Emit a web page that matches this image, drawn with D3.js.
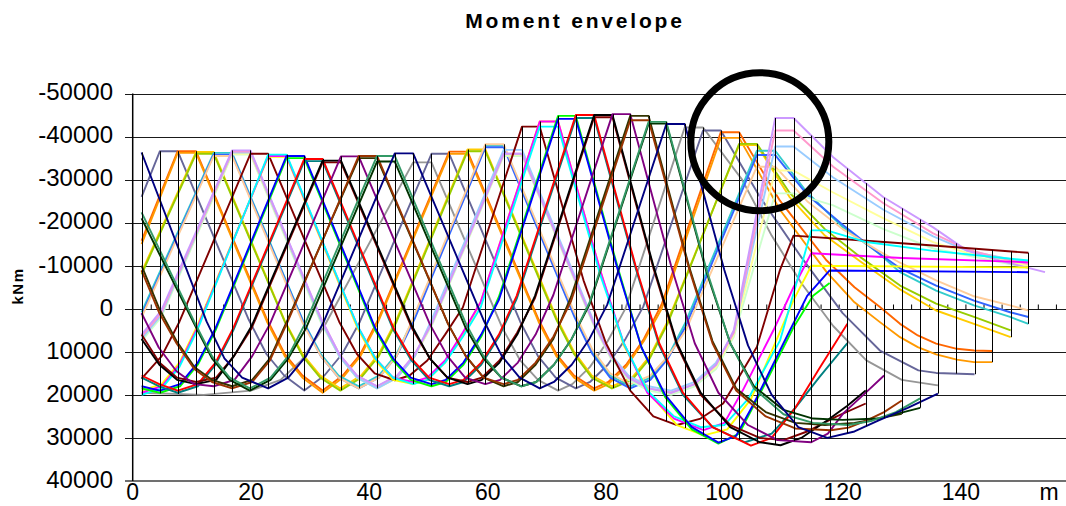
<!DOCTYPE html>
<html>
<head>
<meta charset="utf-8">
<script src="https://cdn.jsdelivr.net/npm/d3@7"></script>
<style>
  body { margin: 0; background: #fff; }
  svg { display: block; font-family: "Liberation Sans", Arial, sans-serif; }
</style>
</head>
<body>
<div class="wrapper"></div>
<script>
// section positions along the deck (m)
const sections = [1.5, 4.6, 7.6, 10.7, 13.7, 16.8, 19.9, 22.9, 26.0, 29.0, 32.1, 35.2, 38.2, 41.3, 44.3,
  47.4, 50.5, 53.5, 56.6, 59.6, 62.7, 65.8, 68.8, 71.9, 74.9, 78.0, 81.1, 84.1, 87.2, 90.2, 93.3, 96.4,
  99.4, 102.5, 105.5, 108.6, 111.7, 114.7, 117.8, 120.8, 123.9, 127.0, 130.0, 133.1, 136.1, 139.2,
  142.3, 145.3, 148.4, 151.4];

const yTicks = [-50, -40, -30, -20, -10, 0, 10, 20, 30, 40]; // x 1000 kNm
const xTicks = [0, 20, 40, 60, 80, 100, 120, 140];

const seriesColors = ["#969696", "#666699", "#FF6600", "#FF9900", "#FFCC00", "#99CC00", "#33CCCC",
  "#3366FF", "#FFCC99", "#CCFFCC", "#FFFF99", "#99CCFF", "#FF99CC", "#CC99FF", "#800000", "#FFFF00",
  "#FF00FF", "#00FFFF", "#00FF00", "#0000FF", "#008080", "#FF0000", "#800000", "#000000", "#800080",
  "#333300", "#993300", "#003300", "#339966", "#000080"];

// each series: x (m), M (x 1000 kNm) pairs
const seriesPoints = [
  [1.5,19.5, 12,20, 20,19, 25,16.5, 28.5,12, 32.4,4, 47.4,-34, 50.5,-34, 62.5,4.5, 65.5,12, 68.5,16.5, 71.9,19, 74.3,17.5, 77.3,13.5, 80.3,7.5, 83.3,-0.1, 93.3,-42.1, 96.4,-42.1, 103,-30, 108,-17, 113,-6, 118.4,4, 124,12, 130,16.5, 136.1,17.8],
  [1.5,-26, 4.6,-36.6, 7.6,-36.6, 19.6,2.5, 22.6,10.5, 25.6,15.5, 29,19, 32.4,15.5, 35.4,10.5, 38.4,3, 50.5,-36, 53.5,-36, 65.5,3, 68.5,11, 71.5,16, 74.9,18.5, 77.3,17, 80.3,13, 83.3,7, 86.3,-0.5, 96.4,-41.4, 99.4,-41.4, 106,-26, 113,-12, 120,1, 126.3,9.7, 132.8,14.3, 135.8,14.9, 142.3,15.2],
  [1.5,-15.8, 7.6,-36.6, 10.7,-36.6, 22.7,2.5, 25.7,10.5, 28.7,15.5, 32.1,19, 35.5,15.5, 38.5,10.5, 41.5,2.5, 53.5,-36.5, 56.6,-36.5, 68.6,2.5, 71.6,10.5, 74.6,15.5, 78,18.5, 80.4,17, 83.4,13, 86.4,7, 89.4,-1, 99.4,-41, 102.5,-41, 109.4,-25.1, 117.3,-11.2, 122,-5, 126.3,-0.4, 129.7,3.5, 132.7,6.2, 135.8,8.1, 139.3,9.3, 142.2,9.7, 145.3,9.8],
  [1.5,-15, 7.6,-36.2, 10.7,-36.2, 22.7,3, 25.7,11, 28.7,16, 32.1,19.5, 35.5,16, 38.5,11, 41.5,3, 53.5,-36, 56.6,-36, 68.6,3, 71.6,11, 74.6,16, 78,19, 80.4,17.5, 83.4,13.5, 86.4,7.5, 89.4,0, 99.4,-39.7, 102.5,-39.7, 109.4,-23, 117.3,-8.5, 122,-1.5, 126.3,3.1, 129.7,6.6, 132.7,8.9, 135.8,10.6, 139.3,11.8, 142.2,12.4, 145.3,12.4],
  [1.5,-8.5, 10.7,-36.4, 13.7,-36.4, 25.7,2.8, 28.7,10.5, 31.7,15.5, 35.1,18.5, 38.6,15.5, 41.6,10.5, 44.6,2.5, 56.6,-37, 59.6,-37, 71.6,2, 74.6,10, 77.6,15.5, 81,18, 84.4,16, 87.4,11, 90.4,3, 102.5,-38, 105.5,-38, 111,-26, 117,-17, 123,-11, 129.7,-4.5, 135.8,0.4, 142.2,3.5, 148.4,6.6],
  [1.5,-8, 10.7,-36, 13.7,-36, 25.7,3, 28.7,11, 31.7,16, 35.1,19, 38.6,16, 41.6,11, 44.6,3, 56.6,-36.6, 59.6,-36.6, 71.6,2.5, 74.6,10.5, 77.6,16, 81,18.5, 84.4,16.5, 87.4,11.5, 90.4,3.5, 102.5,-38.3, 105.5,-38.3, 111,-27, 117,-18.5, 123,-12, 129.7,-5.4, 135.8,-1.2, 142.2,1.9, 148.4,5],
  [1.5,0.8, 13.7,-36.2, 16.8,-36.2, 28.8,2.8, 31.8,10.5, 34.8,15.5, 38.2,18, 41.6,15.5, 44.6,10.5, 47.6,2, 59.6,-37.9, 62.7,-37.9, 74.7,1.5, 77.7,10, 80.7,15.5, 84.1,18, 87.5,16, 90.5,11, 93.5,3, 105.5,-36.7, 108.6,-36.7, 114,-27, 120,-19, 126,-13, 129.7,-8.5, 135.8,-4.2, 142.2,-0.8, 148.3,1.9, 151.4,3.5],
  [1.5,1.5, 13.7,-35.8, 16.8,-35.8, 28.8,3, 31.8,11, 34.8,16, 38.2,18.5, 41.6,16, 44.6,11, 47.6,2.5, 59.6,-37.5, 62.7,-37.5, 74.7,2, 77.7,10.5, 80.7,16, 84.1,18.5, 87.5,16.5, 90.5,11.5, 93.5,4, 105.5,-35.7, 108.6,-35.7, 114,-26.5, 120,-19.5, 126,-13, 129.7,-9.4, 135.8,-5.4, 142.2,-1.9, 148.3,0.8, 151.4,1.9],
  [1.5,2, 13.7,-35.5, 16.8,-35.5, 28.8,3.5, 31.8,11, 34.8,16, 38.2,18.5, 41.6,16, 44.6,11, 47.6,1.5, 59.6,-38.2, 62.7,-38.2, 74.7,1, 77.7,9.5, 80.7,15, 84.1,17.5, 87.5,15.5, 90.5,11, 93.5,5, 105.5,-33, 108.6,-33, 114,-25, 120,-18.5, 126,-13.5, 129.7,-10.7, 135.8,-6.6, 142.2,-2.9, 148.3,-0.8, 151.4,0.4],
  [1.5,7.5, 4.8,2, 16.8,-35.8, 19.9,-35.8, 31.9,3.5, 34.9,11, 37.9,16, 41.3,18.5, 44.7,16, 47.7,11, 50.7,3.5, 62.7,-35.5, 65.8,-35.5, 77.8,3.5, 80.8,11.5, 83.8,16.5, 87.2,19, 91,20, 95,18, 98.6,14, 101.6,6.5, 108.6,-26.8, 111.7,-26.8, 118.4,-24, 126.9,-18.5, 135.3,-14, 151.4,-9.5],
  [1.5,7, 4.8,1.5, 16.8,-36, 19.9,-36, 31.9,3, 34.9,11, 37.9,16, 41.3,18.5, 44.7,16, 47.7,11, 50.7,3, 62.7,-35.8, 65.8,-35.8, 77.8,3, 80.8,11, 83.8,16, 87.2,18.5, 91,19.5, 95,17.5, 98.6,13.5, 101.6,6, 108.6,-32.1, 111.7,-32.1, 118.4,-27, 126.9,-21, 135.3,-15.5, 141,-13, 151.4,-10],
  [1.5,7, 4.8,1.5, 16.8,-36.3, 19.9,-36.3, 31.9,3, 34.9,11, 37.9,16, 41.3,18.5, 44.7,16, 47.7,11, 50.7,2, 62.7,-36.9, 65.8,-36.9, 77.8,2.5, 80.8,10.5, 83.8,15.5, 87.2,18, 91,19, 95,17, 98.6,12.5, 101.6,5.5, 108.6,-37.7, 111.7,-37.7, 118.4,-30.5, 126.9,-23, 135.3,-16.8, 141,-13.5, 146.6,-12, 151.4,-10.8],
  [1.5,6.5, 4.8,1, 16.8,-36.5, 19.9,-36.5, 31.9,2.5, 34.9,10.5, 37.9,15.5, 41.3,18, 44.7,15.5, 47.7,10.5, 50.7,3, 62.7,-36, 65.8,-36, 77.8,3, 80.8,11, 83.8,16, 87.2,18.5, 91,19.5, 95,17.5, 98.6,13, 101.6,5.5, 108.6,-41.4, 111.7,-41.4, 118.4,-33, 126.9,-24.5, 135.3,-17.5, 141,-13.8, 146.6,-11.8, 151.4,-10.4],
  [1.5,6, 4.8,0.5, 16.8,-36.8, 19.9,-36.8, 31.9,2.5, 34.9,10.5, 37.9,15.5, 41.3,18, 44.7,15.5, 47.7,10.5, 50.7,3, 62.7,-36, 65.8,-36, 77.8,3, 80.8,11, 83.8,16, 87.2,18.5, 91,19.5, 95,17.5, 98.6,13, 101.6,5, 108.6,-44.3, 111.7,-44.3, 118.4,-35.2, 126.9,-25.9, 135.3,-18.9, 141,-13.5, 146.6,-11.2, 154.2,-8.5],
  [1.5,16.2, 4.9,11, 7.9,3, 19.9,-36, 22.9,-36, 34.9,3, 37.9,10.5, 40.9,15, 44.3,16.6, 46.8,15.5, 49.8,12, 52.8,6, 55.8,-0.3, 65.8,-42.3, 68.8,-42.3, 76.2,-6.6, 80,8, 84.1,19, 88,25, 92,27, 96,25.5, 99.8,22, 105.5,8.9, 109.4,-9, 111.7,-17, 124,-15.8, 135.3,-14.7, 151.4,-13],
  [1.5,19, 4.9,17.5, 7.9,12.5, 10.9,4, 22.9,-35.3, 26,-35.3, 38,4.5, 41,12, 44,16.5, 47.4,17.5, 49.8,16.5, 52.8,12.5, 55.8,6, 58.8,-1.5, 68.8,-43.5, 71.9,-43.5, 79,-9, 83,8.5, 87.5,20, 92,27, 96.5,29.4, 100.5,28, 104.5,21, 108.3,8.9, 111.7,-2, 114.7,-10, 151.4,-9.6],
  [1.5,19.5, 4.9,18, 7.9,13, 10.9,4.5, 22.9,-35.5, 26,-35.5, 38,4, 41,11.5, 44,16, 47.4,17, 49.8,16, 52.8,12, 55.8,5.5, 58.8,-1.5, 68.8,-43.5, 71.9,-43.5, 79,-9, 83,8, 87,19.5, 91.5,25.5, 96.5,28.2, 100,26.5, 103.1,19, 108.3,5, 111.7,-5, 114.7,-12.9, 130,-11.8, 151.4,-10.8],
  [1.5,20, 4.9,18.5, 7.9,13.5, 10.9,5, 22.9,-35.8, 26,-35.8, 38,4, 41,11.5, 44,16, 47.4,17.5, 49.8,16.5, 52.8,12.5, 55.8,6.5, 58.8,-0.3, 68.8,-42.3, 71.9,-42.3, 79,-8, 83,8, 87,19, 91.5,25, 96,27.5, 100,27, 104,21, 109.4,7.4, 112,-5, 114.7,-18.2, 117.3,-18.2, 124,-15.5, 135,-13.5, 151.4,-11.2],
  [1.5,18.5, 4.6,19.5, 8,18, 11,13, 14,5, 26,-35, 29,-35, 41,5, 44,12, 47,16.5, 50.5,18, 52.9,17, 55.9,13, 58.9,6.5, 61.9,-2.8, 71.9,-44.8, 74.9,-44.8, 82,-9.5, 86,9, 90,20.5, 94.5,28, 99,31.3, 102.5,29, 107.2,16.6, 111.7,4.3, 115,-3, 117.8,-6],
  [1.5,18, 4.6,19, 8,17.5, 11,12.5, 14,4.5, 26,-35.5, 29,-35.5, 41,4.5, 44,11.5, 47,16, 50.5,17.5, 52.9,16.5, 55.9,12.5, 58.9,6, 61.9,-2.1, 71.9,-44.1, 74.9,-44.1, 82,-9, 86,9, 90,20, 94.5,27.5, 99,31.1, 102,29.5, 105,22, 110,8, 114,-3, 117.8,-8.9, 151.4,-8.5],
  [1.5,16, 4.5,18, 7.6,19.5, 11,18, 14,13, 17,5, 29,-34.3, 32.1,-34.3, 44.1,5, 47.1,12, 50.1,16.5, 53.5,18, 55.9,17, 58.9,13, 61.9,6.5, 64.9,-2.3, 74.9,-44.3, 78,-44.3, 85,-9.5, 89,8.5, 93,20, 98,27.5, 103.5,31, 108,29, 112,23, 116,16, 120.8,8],
  [1.5,15.5, 4.5,17.5, 7.6,19, 11,17.5, 14,12.5, 17,4.5, 29,-34.8, 32.1,-34.8, 44.1,4.5, 47.1,11.5, 50.1,16, 53.5,17.5, 55.9,16.5, 58.9,12.5, 61.9,6, 64.9,-3, 74.9,-45, 78,-45, 85,-10, 89,8, 93,19.5, 98,27.5, 104.5,31.8, 108,30, 112,23, 116,14, 120.8,3.5],
  [1.5,6, 4.5,12.5, 7.5,16, 10.7,17, 14.1,16, 17.1,11, 20.1,4.5, 32.1,-34, 35.2,-34, 47.2,4.5, 50.2,11.5, 53.2,16, 56.6,17, 59,16, 62,12, 65,5.5, 68,-2.5, 78,-44.5, 81.1,-44.5, 88,-9.5, 92,8.5, 96,20, 101,27, 106,30, 110,30.5, 114,28.5, 119,25, 123.9,22],
  [1.5,7, 4.5,13, 7.5,16.5, 10.7,17.5, 14.1,16.5, 17.1,11, 20.1,4, 32.1,-34.4, 35.2,-34.4, 47.2,4, 50.2,11.5, 53.2,16, 56.6,17.5, 59,16.5, 62,12.5, 65,6, 68,-3, 78,-45, 81.1,-45, 88,-10, 92,8, 96,19.5, 101,27.5, 106,31, 109.5,31.7, 113,30, 117.3,26, 120.8,22.5, 123.9,19],
  [1.5,1, 4.4,9, 7.4,14.5, 10.4,17.5, 13.7,18, 17.2,16.5, 20.2,11, 23.2,3.5, 35.2,-35.4, 38.2,-35.4, 50.2,3.5, 53.2,11, 56.2,16, 59.6,17.5, 62.1,16.5, 65.1,12.5, 68.1,6, 71.1,-3.2, 81.1,-45.2, 84.1,-45.2, 91,-10, 95,8, 99,19.5, 104,27, 109,30.5, 114.7,31, 117.5,29, 120.1,24.3, 123.5,20, 127,15.5],
  [1.5,-10, 4.5,0, 7.4,7.5, 10.4,13.5, 13.4,16.5, 16.8,18, 20.2,16.5, 23.2,11.5, 26.2,2.5, 38.2,-35, 41.3,-35, 53.3,3.5, 56.3,11, 59.3,16, 62.7,18, 65.1,17, 68.1,13, 71.1,7, 74.1,-2.8, 84.1,-44.8, 87.2,-44.8, 94,-10, 98,7.5, 102,18.5, 107,24, 112,26.5, 117,27, 122,26.5, 126,25.5, 130,24.4],
  [1.5,-8.9, 4.5,1, 7.4,8, 10.4,14, 13.4,17, 16.8,18.5, 20.2,17, 23.2,12, 26.2,3, 38.2,-35.5, 41.3,-35.5, 53.3,3.5, 56.3,11, 59.3,16, 62.7,17.5, 65.1,16.5, 68.1,12.5, 71.1,6.5, 74.1,-1.8, 84.1,-43.8, 87.2,-43.8, 94,-9.5, 98,8, 102,19, 107,25, 112,27.8, 118,28.2, 121,27.6, 124,26, 127,24, 130,21.3],
  [1.5,-21, 10.4,3.5, 13.4,11.5, 16.4,16.5, 19.8,19, 23.3,16.5, 26.3,11.5, 29.3,4.5, 41.3,-34.2, 44.3,-34.2, 56.3,4.5, 59.3,11.5, 62.3,16, 65.7,18, 68.2,17, 71.2,13, 74.2,7, 77.2,-1, 87.2,-43, 90.2,-43, 97,-8.5, 101,8, 105,18, 110,23.5, 115,25.5, 120,25.8, 126,25.5, 133.1,23],
  [1.5,-22.4, 10.4,3, 13.4,11, 16.4,16, 19.8,18.5, 23.3,16, 26.3,11, 29.3,3, 41.3,-35.5, 44.3,-35.5, 56.3,3.4, 59.3,11, 62.3,16, 65.7,18, 68.2,17, 71.2,13, 74.2,7, 77.2,-1.4, 87.2,-43.4, 90.2,-43.4, 97,-9, 101,8, 105,18.5, 110,24.5, 115,26.5, 121,27, 125,26, 129,24, 133.1,20.8],
  [1.5,-36.3, 12.5,3, 15.5,11.5, 18.5,16, 22.9,18.5, 26.3,16, 29.3,11, 32.3,3, 44.3,-36.1, 47.4,-36.1, 59.4,2.9, 62.4,11, 65.4,16, 68.8,18.5, 71.2,17, 74.2,13, 77.2,7, 80.2,-0.9, 90.2,-42.9, 93.3,-42.9, 100,-9, 104,8.5, 108,20, 112.5,27.5, 117.4,30, 122,28.5, 126,26, 131,23, 136.1,19.7]
];

// circled detail (m, x 1000 kNm)
const highlight = [106, -38.8];

const width = 1066, height = 506;

const x = d3.scaleLinear().domain([0, 160]).range([132.7, 1079.3]);
const y = d3.scaleLinear().domain([-50, 40]).range([93.5, 481]);

const svg = d3.select(".wrapper")
  .append("svg")
  .attr("width", width)
  .attr("height", height);

svg.append("text")
  .attr("x", 575)
  .attr("y", 28)
  .attr("text-anchor", "middle")
  .style("font-size", "21px")
  .style("font-weight", "bold")
  .style("letter-spacing", "2.8px")
  .text("Moment envelope");

// horizontal grid
svg.append("g")
  .selectAll("line")
  .data(yTicks.slice(0, -1))
  .enter()
  .append("line")
  .attr("x1", 125)
  .attr("x2", width)
  .attr("y1", (d) => Math.round(y(d)) + 0.5)
  .attr("y2", (d) => Math.round(y(d)) + 0.5)
  .attr("stroke", "#1a1a1a")
  .attr("stroke-width", 1.2);

// bottom axis line
svg.append("line")
  .attr("x1", 125)
  .attr("x2", width)
  .attr("y1", y(40))
  .attr("y2", y(40))
  .attr("stroke", "#707070")
  .attr("stroke-width", 2);

// y labels
svg.append("g")
  .selectAll("text")
  .data(yTicks)
  .enter()
  .append("text")
  .attr("x", 113)
  .attr("y", (d) => y(d) + 6.8)
  .attr("text-anchor", "end")
  .style("font-size", "24px")
  .text((d) => String(d * 1000));

// x labels
svg.append("g")
  .selectAll("text")
  .data(xTicks)
  .enter()
  .append("text")
  .attr("x", (d) => x(d))
  .attr("y", 500)
  .attr("text-anchor", "middle")
  .style("font-size", "23px")
  .text((d) => d);

svg.append("text")
  .attr("x", 1049)
  .attr("y", 500)
  .attr("text-anchor", "middle")
  .style("font-size", "23px")
  .text("m");

svg.append("text")
  .attr("transform", "translate(23,286) rotate(-90)")
  .attr("text-anchor", "middle")
  .style("font-size", "15px")
  .style("font-weight", "bold")
  .style("letter-spacing", "1.5px")
  .text("kNm");

// small ticks on the zero line
const zeroAxis = d3.axisTop(x)
  .tickValues(d3.range(3.05, 157, 3.06))
  .tickSize(5)
  .tickFormat("");
svg.append("g")
  .attr("transform", "translate(0," + (Math.round(y(0)) + 0.5) + ")")
  .call(zeroAxis)
  .call((g) => g.select(".domain").remove())
  .selectAll("line")
  .attr("stroke", "#000");

////// SERIES //////

const series = seriesPoints.map((flat, i) => ({
  color: seriesColors[i],
  pts: d3.range(0, flat.length, 2).map((j) => [flat[j], flat[j + 1]])
}));

const line = d3.line()
  .x((d) => x(d[0]))
  .y((d) => y(d[1]));

svg.append("g")
  .attr("class", "series")
  .selectAll("path")
  .data(series)
  .enter()
  .append("path")
  .attr("d", (d) => line(d.pts))
  .attr("fill", "none")
  .attr("stroke", (d) => d.color)
  .attr("stroke-width", 1.9)
  .attr("stroke-linejoin", "round");

////// SECTION VERTICALS (envelope at each section) //////

const bx = d3.bisector((p) => p[0]).left;
function valueAt(pts, xv) {
  if (xv < pts[0][0] - 1e-6 || xv > pts[pts.length - 1][0] + 1e-6) return null;
  let i = bx(pts, xv);
  if (i <= 0) return pts[0][1];
  if (i >= pts.length) return pts[pts.length - 1][1];
  const a = pts[i - 1], b = pts[i];
  return a[1] + (b[1] - a[1]) * (xv - a[0]) / (b[0] - a[0]);
}

const envelope = sections.map((s) => {
  const vals = series.map((d) => valueAt(d.pts, s)).filter((v) => v !== null);
  return { s: s, lo: d3.min(vals), hi: d3.max(vals) };
});

svg.append("g")
  .selectAll("line")
  .data(envelope)
  .enter()
  .append("line")
  .attr("x1", (d) => Math.round(x(d.s)) + 0.5)
  .attr("x2", (d) => Math.round(x(d.s)) + 0.5)
  .attr("y1", (d) => y(d.lo))
  .attr("y2", (d) => y(d.hi))
  .attr("stroke", "#000")
  .attr("stroke-width", 1);

// y axis line
svg.append("line")
  .attr("x1", 132.7)
  .attr("x2", 132.7)
  .attr("y1", y(-50))
  .attr("y2", y(40))
  .attr("stroke", "#000")
  .attr("stroke-width", 1.5);

// circle annotation
svg.append("circle")
  .attr("cx", x(highlight[0]))
  .attr("cy", y(highlight[1]))
  .attr("r", 69)
  .attr("fill", "none")
  .attr("stroke", "#000")
  .attr("stroke-width", 7);
</script>
</body>
</html>
